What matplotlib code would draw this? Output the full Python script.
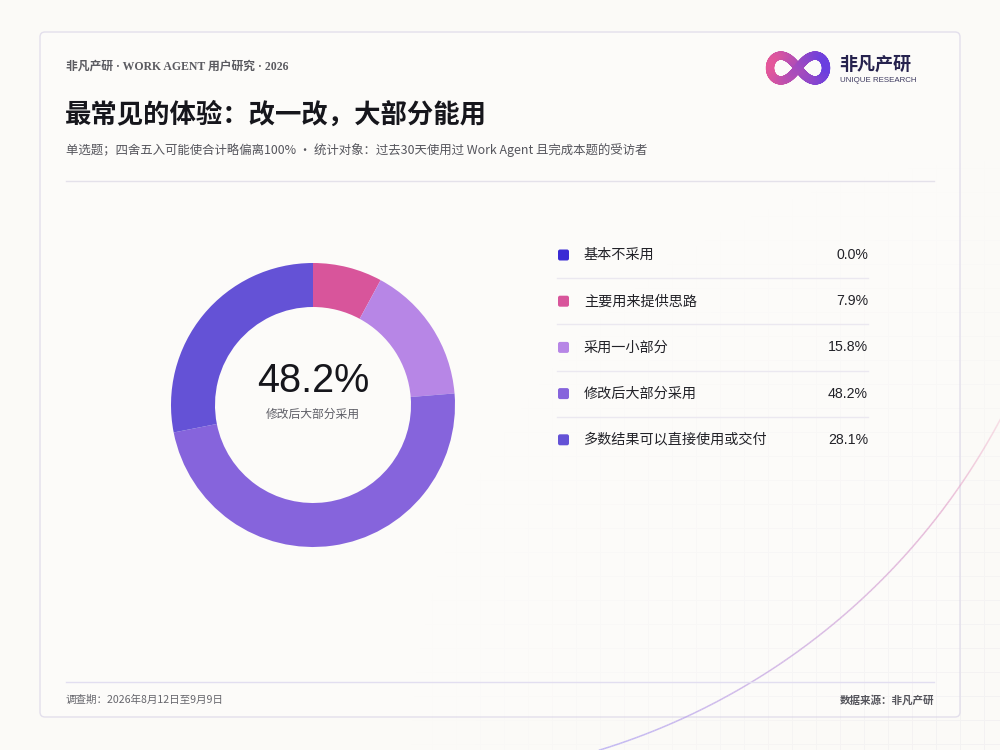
import numpy as np
import matplotlib
matplotlib.use("Agg")
import matplotlib.pyplot as plt
from matplotlib.patches import FancyBboxPatch
from matplotlib.collections import LineCollection
from matplotlib.colors import to_rgb

plt.rcParams['font.family'] = ['Noto Sans CJK SC', 'DejaVu Sans']

# data
categories = ['基本不采用', '主要用来提供思路', '采用一小部分', '修改后大部分采用', '多数结果可以直接使用或交付']
values = [0.0, 7.9, 15.8, 48.2, 28.1]
colors = ['#3a2bd4', '#d8559b', '#b786e6', '#8664dc', '#6452d6']
highlight = 3

header = '非凡产研 · WORK AGENT 用户研究 · 2026'
title = '最常见的体验：改一改，大部分能用'
subtitle = '单选题；四舍五入可能使合计略偏离100% · 统计对象：过去30天使用过 Work Agent 且完成本题的受访者'
footer_left = '调查期：2026年8月12日至9月9日'
footer_right = '数据来源：非凡产研'

W, H = 1000, 750
bg = '#fbfaf7'
fig = plt.figure(figsize=(10, 7.5), dpi=100, facecolor=bg)

ax = fig.add_axes([0, 0, 1, 1])
ax.set_xlim(0, W)
ax.set_ylim(H, 0)
ax.axis('off')
ax.set_zorder(0)

# card
card = FancyBboxPatch((40, 32), 920, 685, boxstyle='round,pad=0,rounding_size=5',
                      facecolor='#fcfbf9', edgecolor='#e3dfec', lw=1.0, zorder=1)
ax.add_patch(card)

# faint grid fading toward bottom-right
yy, xx = np.mgrid[0:H, 0:W]
gridmask = ((xx % 24) == 0) | ((yy % 24) == 0)
d = np.hypot(xx - W, yy - H)
fade = np.clip(1 - d / 600, 0, 1)
img = np.zeros((H, W, 4))
img[..., :3] = to_rgb('#d6d3e0')
img[..., 3] = gridmask * fade * 0.22
ax.imshow(img, extent=(0, W, H, 0), zorder=2, interpolation='nearest')

# decorative arc
t = np.linspace(np.deg2rad(25), np.deg2rad(73), 300)
cx, cy, r = 400, 100, 680
px = cx + r * np.cos(t)
py = cy + r * np.sin(t)
pts = np.column_stack([px, py]).reshape(-1, 1, 2)
segs = np.concatenate([pts[:-1], pts[1:]], axis=1)
c0, c1 = np.array(to_rgb('#f3a3bd')), np.array(to_rgb('#a99cf2'))
f = np.linspace(0, 1, len(segs))[:, None]
alpha = 0.2 + 0.5 * np.clip(f * 4, 0, 1)
seg_cols = np.hstack([c0 * (1 - f) + c1 * f, alpha])
ax.add_collection(LineCollection(segs, colors=seg_cols, lw=1.1, zorder=3))

# header texts
ax.text(66, 67, header, fontsize=8.5, color='#5a5a60', fontweight='bold',
        family=['Liberation Serif', 'Noto Sans CJK SC'], va='center', zorder=5)
ax.text(65, 115, title, fontsize=19, color='#16161c', fontweight='bold', va='center', zorder=5)
ax.text(66, 150, subtitle, fontsize=8.95, color='#55555c', va='center', zorder=5)
ax.plot([66, 934], [181, 181], color='#e4e1ea', lw=1, zorder=5)

# logo (infinity with gradient)
s = np.linspace(0, 2 * np.pi, 400)
a = 28
lx = 798 + a * np.cos(s) / (1 + np.sin(s) ** 2)
ly = 68 + 1.25 * a * np.sin(s) * np.cos(s) / (1 + np.sin(s) ** 2)
lp = np.column_stack([lx, ly]).reshape(-1, 1, 2)
lsegs = np.concatenate([lp[:-1], lp[1:]], axis=1)
g = ((lx[:-1] - (798 - a)) / (2 * a))[:, None]
lc0, lc1 = np.array(to_rgb('#e4579a')), np.array(to_rgb('#6a3fe0'))
ax.add_collection(LineCollection(lsegs, colors=lc0 * (1 - g) + lc1 * g, lw=6.0,
                                 capstyle='round', zorder=5))
ax.text(839, 64, '非凡产研', fontsize=13, fontweight='bold', color='#26224e', va='center', zorder=5)
ax.text(840, 81, 'UNIQUE RESEARCH', fontsize=5.7, color='#3e3a60', va='center',
        family=['Liberation Sans', 'DejaVu Sans'], zorder=5)

# legend rows
row_y0, row_dy = 255, 46.2
for i, (cat, val, col) in enumerate(zip(categories, values, colors)):
    y = row_y0 + i * row_dy
    ax.add_patch(FancyBboxPatch((558, y - 5.5), 11, 11, boxstyle='round,pad=0,rounding_size=2',
                                facecolor=col, edgecolor='none', zorder=5))
    ax.text(584, y, cat, fontsize=10.2, color='#222228', va='center', fontweight='medium', zorder=5)
    ax.text(868, y, f'{val:.1f}%', fontsize=10.2, color='#222228', va='center', ha='right',
            family=['Liberation Sans', 'DejaVu Sans'], zorder=5)
    if i < len(categories) - 1:
        ax.plot([557, 868], [y + row_dy / 2, y + row_dy / 2], color='#ebe8f0', lw=1, zorder=5)

# footer
ax.plot([66, 934], [682, 682], color='#e2def0', lw=1, zorder=5)
ax.text(66, 700, footer_left, fontsize=7.6, color='#66666c', va='center', zorder=5)
ax.text(934, 700, footer_right, fontsize=7.6, color='#55555c', va='center', ha='right',
        fontweight='bold', zorder=5)

# donut
pcx, pcy, box = 313, 405, 300
pax = fig.add_axes([(pcx - box / 2) / W, (H - pcy - box / 2) / H, box / W, box / H])
pax.set_zorder(1)
pax.patch.set_alpha(0)
R_out, R_in = 142 / 150, 98 / 150
pax.pie(values, colors=colors, startangle=90, counterclock=False, radius=R_out,
        wedgeprops=dict(width=R_out - R_in, linewidth=0))
pax.set_xlim(-1, 1)
pax.set_ylim(-1, 1)
pax.set_aspect('equal')
pax.axis('off')

fig.text(pcx / W, 1 - 414 / H, categories[highlight], fontsize=8.5, color='#5e5e66',
         ha='center', va='center')
fig.text(pcx / W, 1 - 381 / H, f'{values[highlight]:.1f}%', fontsize=28.5, color='#16161c',
         ha='center', va='center', family=['Liberation Sans', 'DejaVu Sans'])

fig.savefig('out.png', dpi=100, facecolor=bg)
